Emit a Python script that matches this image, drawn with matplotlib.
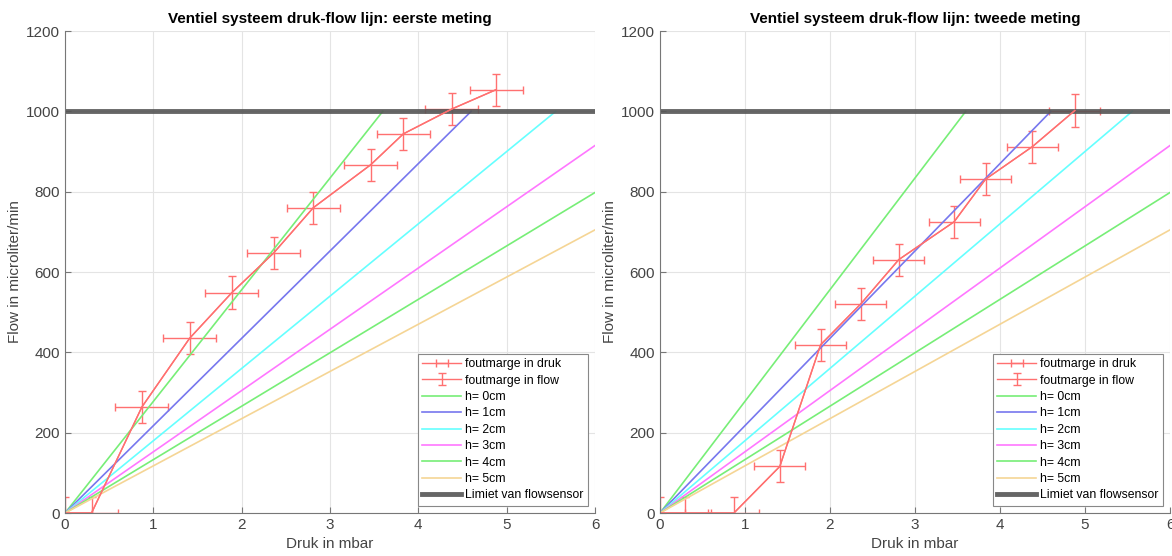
import numpy as np
import matplotlib
matplotlib.use("Agg")
import matplotlib.pyplot as plt

plt.rcParams['font.family'] = ['Liberation Sans', 'DejaVu Sans']

# drukwaarden (mbar) van de meetpunten
druk = [0.0, 0.30, 0.87, 1.41, 1.89, 2.36, 2.81, 3.46, 3.83, 4.38, 4.88]
flow_eerste = [0, 0, 264, 435, 549, 647, 760, 867, 944, 1006, 1054]
flow_tweede = [0, 0, 0, 116, 419, 520, 631, 725, 831, 912, 1002]
fout_druk = 0.3
fout_flow = 40

# theoretische lijnen: flow per mbar voor iedere hoogte
hoogtes = [0, 1, 2, 3, 4, 5]
hellingen = [278, 217.5, 180, 152.5, 133, 117.5]
kleuren = ['#77ee77', '#7777ee', '#66ffff', '#ff77ff', '#77ee77', '#f5d595']

limiet = 1000
titels = ["Ventiel systeem druk-flow lijn: eerste meting",
          "Ventiel systeem druk-flow lijn: tweede meting"]

fig = plt.figure(figsize=(11.72, 5.56), dpi=100)
ax1 = fig.add_axes([0.0555, 0.0773, 0.4522, 0.8669])
ax2 = fig.add_axes([0.5631, 0.0773, 0.4352, 0.8669])

rood = '#ff7070'
grijs = '#555555'

for ax, flow, titel in zip([ax1, ax2], [flow_eerste, flow_tweede], titels):
    e1 = ax.errorbar(druk, flow, xerr=fout_druk, fmt='-', color=rood, lw=1,
                     elinewidth=1, capsize=3, label='foutmarge in druk')
    e2 = ax.errorbar(druk, flow, yerr=fout_flow, fmt='-', color=rood, lw=1,
                     elinewidth=1, capsize=3, label='foutmarge in flow')
    lijnen = []
    for h, s, c in zip(hoogtes, hellingen, kleuren):
        xe = min(6, limiet / s)
        xs = np.array([0, xe])
        l, = ax.plot(xs, s * xs, color=c, lw=1.2, label=f'h= {h}cm')
        lijnen.append(l)
    lim = ax.axhline(limiet, color=grijs, lw=3.5, alpha=0.9, label='Limiet van flowsensor')

    ax.set_xlim(0, 6)
    ax.set_ylim(0, 1200)
    ax.set_xticks(range(0, 7))
    ax.set_yticks(range(0, 1201, 200))
    ax.grid(True, color='#e4e4e4', lw=0.8)
    ax.set_axisbelow(True)
    for side in ['top', 'right']:
        ax.spines[side].set_visible(False)
    for side in ['left', 'bottom']:
        ax.spines[side].set_color('#777777')
        ax.spines[side].set_linewidth(0.8)
    ax.tick_params(direction='in', length=4, colors='#777777', labelcolor='#444444',
                   labelsize=11, width=0.8)
    ax.set_title(titel, fontsize=11, fontweight='bold', pad=6)
    ax.set_xlabel('Druk in mbar', fontsize=11, color='#444444', labelpad=4)
    ax.set_ylabel('Flow in microliter/min', fontsize=11, color='#444444', labelpad=3)
    handles = [e1, e2] + lijnen + [lim]
    leg = ax.legend(handles=handles, labels=[hd.get_label() for hd in handles],
                    loc='lower right', fontsize=8.8, handlelength=3.2, fancybox=False,
                    framealpha=1, edgecolor='#888888', borderaxespad=0.6,
                    labelspacing=0.36, handletextpad=0.3, borderpad=0.35)
    leg.get_frame().set_linewidth(0.8)

fig.savefig('out.png', dpi=100)
